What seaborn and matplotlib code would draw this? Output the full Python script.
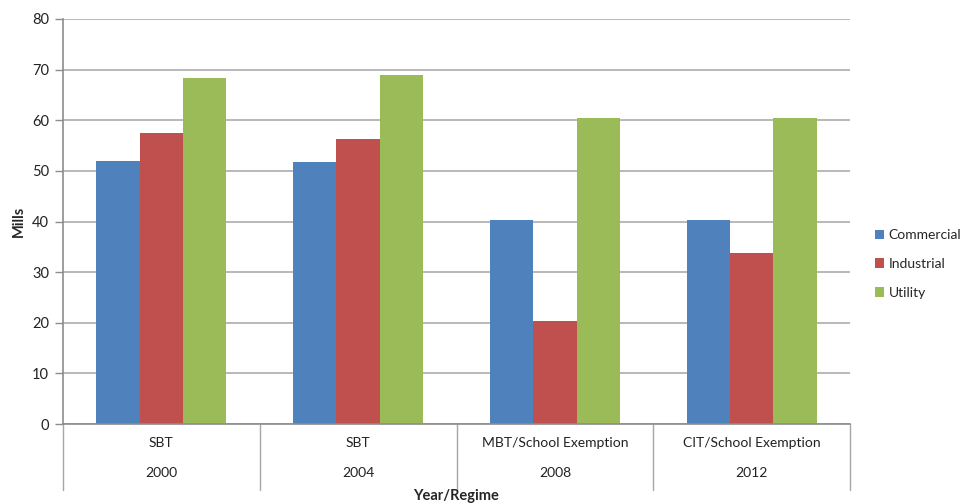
import matplotlib
matplotlib.use("Agg")
import matplotlib.pyplot as plt
import seaborn as sns
import pandas as pd

years = ["2000", "2004", "2008", "2012"]
regimes = ["SBT", "SBT", "MBT/School Exemption", "CIT/School Exemption"]
series = ["Commercial", "Industrial", "Utility"]
commercial = [51.9, 51.8, 40.2, 40.2]
industrial = [57.4, 56.3, 20.3, 33.8]
utility = [68.4, 68.9, 60.5, 60.5]
colors = ["#4F81BD", "#C0504D", "#9BBB59"]

rows = []
for name, vals in zip(series, [commercial, industrial, utility]):
    for y, v in zip(years, vals):
        rows.append({"Year": y, "Type": name, "Mills": v})
df = pd.DataFrame(rows)

sns.set_style("white")
plt.rcParams["font.family"] = ["Lato", "DejaVu Sans"]

fig = plt.figure(figsize=(9.67, 5.04), dpi=100)
ax = fig.add_axes([63 / 967, 1 - 424 / 504, (850 - 63) / 967, (424 - 19) / 504])

sns.barplot(data=df, x="Year", y="Mills", hue="Type", order=years,
            hue_order=series, palette=colors, width=0.66, gap=0,
            saturation=1, linewidth=0, ax=ax, legend=True)

ax.set_xlim(-0.5, len(years) - 0.5)
ax.set_ylim(0, 80)
ax.set_yticks(range(0, 81, 10))
ax.yaxis.grid(True, color="#A6A6A6", linewidth=1.1)
ax.set_axisbelow(True)
ax.tick_params(axis="y", which="both", left=True, length=6, width=1,
               color="#8C8C8C", labelsize=10.5, pad=4, labelcolor="#222222")
ax.set_xticks([])
ax.set_xlabel("")
ax.set_ylabel("Mills", fontsize=10.5, fontweight="bold")
ax.yaxis.set_label_coords(-0.047, 0.5)

for side in ["top", "right"]:
    ax.spines[side].set_visible(False)
for side in ["left", "bottom"]:
    ax.spines[side].set_color("#8C8C8C")
    ax.spines[side].set_linewidth(1.2)

# two-level category axis: regime on top row, year below, with dividers
trans = ax.get_xaxis_transform()
axis_h = 424 - 19
for b in [i - 0.5 for i in range(len(years) + 1)]:
    ax.plot([b, b], [0, -(490 - 424) / axis_h], transform=trans,
            color="#A6A6A6", linewidth=1, clip_on=False)
for i, (reg, yr) in enumerate(zip(regimes, years)):
    ax.text(i, -(443 - 424) / axis_h, reg, transform=trans, ha="center",
            va="center", fontsize=10, color="#222222")
    ax.text(i, -(473 - 424) / axis_h, yr, transform=trans, ha="center",
            va="center", fontsize=10, color="#222222")
fig.text(456 / 967, 1 - 496 / 504, "Year/Regime", ha="center", va="center",
         fontsize=10.5, fontweight="bold")

handles, labels = ax.get_legend_handles_labels()
ax.legend_.remove()
fig.legend(handles, labels, loc="center left",
           bbox_to_anchor=(865 / 967, 1 - 264 / 504), frameon=False,
           fontsize=10, handlelength=0.7, handleheight=0.7,
           handletextpad=0.3, labelspacing=1.2, borderpad=0.2)

fig.savefig("out.png", dpi=100)
